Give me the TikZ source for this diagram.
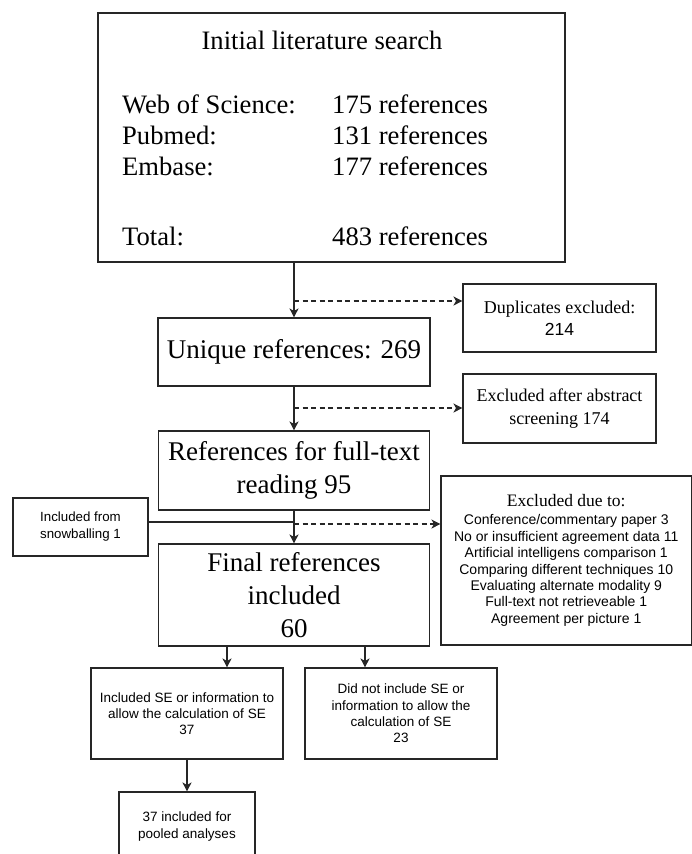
\documentclass[tikz,border=0pt]{standalone}
\usepackage{fontspec}
\setmainfont{Liberation Serif}
\setsansfont{Liberation Sans}
\usetikzlibrary{arrows.meta}
\newcommand{\myfs}[2]{\fontsize{#1}{#2}\selectfont}
\begin{document}
\begin{tikzpicture}[x=1pt,y=-1pt,
  box/.style={draw=black!85, line width=1.1pt, inner sep=0pt, align=center},
  arr/.style={draw=black!85, line width=1.1pt, -{Stealth[length=9pt,width=9pt,inset=2.5pt]}},
  darr/.style={arr, dash pattern=on 5pt off 3.5pt},
  ln/.style={draw=black!85, line width=1.1pt},
  big/.style={font=\myfs{27}{33}},
  mid/.style={font=\myfs{18}{22.5}},
  small/.style={font=\sffamily\myfs{13.5}{16.3}},
  toptxt/.style={font=\myfs{26.6}{31}, inner sep=0pt}]
\useasboundingbox (0,0) rectangle (692,854);
% top box
\node[box, minimum width=467pt, minimum height=249pt] (top) at (331.5,137.5) {};
\node[toptxt, anchor=base] (title) at (322,49) {Initial literature search};
\node[toptxt, anchor=base west] (wl) at (122,113) {Web of Science:};
\node[toptxt, anchor=base west] (pl) at (122,144) {Pubmed:};
\node[toptxt, anchor=base west] (el) at (122,175) {Embase:};
\node[toptxt, anchor=base west] (tl) at (122,245) {Total:};
\node[toptxt, anchor=base west] (wr) at (332,113) {175 references};
\node[toptxt, anchor=base west] (pr) at (332,144) {131 references};
\node[toptxt, anchor=base west] (er) at (332,175) {177 references};
\node[toptxt, anchor=base west] (tr) at (332,245) {483 references};
% main column
\node[box, big, minimum width=272pt, minimum height=68pt] (uniq) at (294,352) {Unique references: 269};
\node[box, big, minimum width=271pt, minimum height=79pt] (ref) at (294,470.5) {References for full-text\\reading 95};
\node[box, big, minimum width=271pt, minimum height=102pt] (final) at (294,595) {Final references\\included\\60};
% right side boxes
\node[box, mid, minimum width=193pt, minimum height=68pt] (dup) at (559.5,318) {Duplicates excluded:\\{\sffamily\myfs{17.5}{22.5}214}};
\node[box, mid, minimum width=193pt, minimum height=69pt] (abs) at (559.5,408.5) {Excluded after abstract\\screening 174};
\node[box, font=\sffamily\myfs{14}{16.4}, minimum width=250.5pt, minimum height=169pt] (excl) at (566.25,560.5)
  {{\rmfamily\myfs{17.5}{18}Excluded due to:}\\[1.5pt]
   Conference/commentary paper 3\\
   No or insufficient agreement data 11\\
   Artificial intelligens comparison 1\\
   Comparing different techniques 10\\
   Evaluating alternate modality 9\\
   Full-text not retrieveable 1\\
   Agreement per picture 1};
\node[box, font=\sffamily\myfs{13.3}{17}, minimum width=135pt, minimum height=58pt] (snow) at (80.5,527) {Included from\\snowballing 1};
% bottom boxes
\node[box, small, minimum width=192pt, minimum height=91pt] (lft) at (187,713.5) {Included SE or information to\\allow the calculation of SE\\37};
\node[box, small, minimum width=192pt, minimum height=91pt] (rgt) at (401,713.5) {Did not include SE or\\information to allow the\\calculation of SE\\23};
\node[box, font=\sffamily\myfs{13.5}{17}, minimum width=136pt, minimum height=69pt] (pool) at (187,826.5) {37 included for\\pooled analyses};
% coordinates
\coordinate (d1) at (294,301);
\coordinate (d2) at (294,408);
\coordinate (s1) at (294,522);
\coordinate (d3) at (294,524);
\coordinate (a1) at (227,0);
\coordinate (a2) at (365,0);
% connectors
\draw[arr] (uniq.north |- top.south) -- (uniq.north);
\draw[darr] (d1) -- (d1 -| dup.west);
\draw[arr] (uniq.south) -- (ref.north);
\draw[darr] (d2) -- (d2 -| abs.west);
\draw[arr] (ref.south) -- (final.north);
\draw[ln] (snow.east |- s1) -- (s1);
\draw[darr] (d3) -- (d3 -| excl.west);
\draw[arr] (final.south -| a1) -- (lft.north -| a1);
\draw[arr] (final.south -| a2) -- (rgt.north -| a2);
\draw[arr] (lft.south) -- (pool.north);
\end{tikzpicture}
\end{document}
